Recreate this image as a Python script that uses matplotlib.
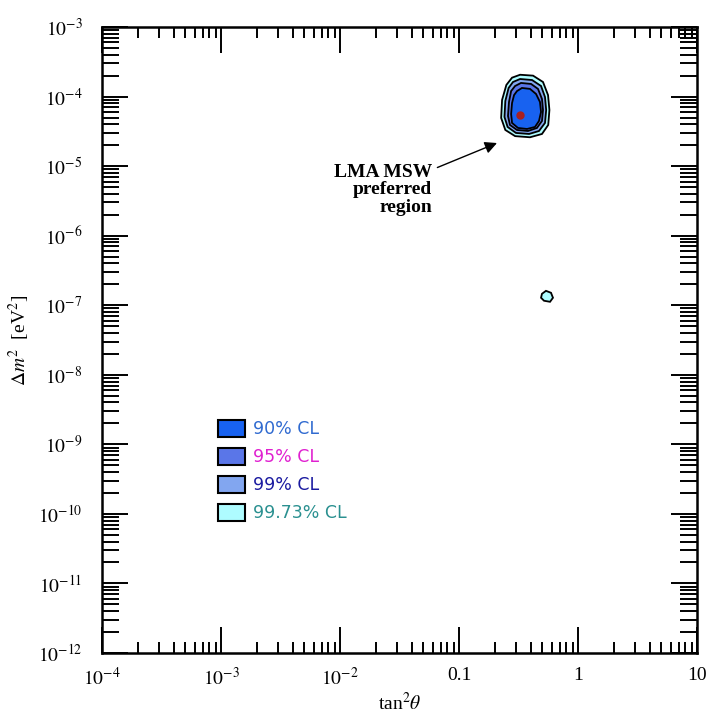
import numpy as np
import matplotlib
matplotlib.use("Agg")
import matplotlib.pyplot as plt
from matplotlib.patches import Rectangle
from matplotlib.ticker import LogLocator, NullFormatter

plt.rcParams['font.family'] = ['Liberation Serif', 'DejaVu Serif']
plt.rcParams['mathtext.fontset'] = 'stix'

# allowed-region contours (tan^2 theta, dm^2 in eV^2)
cl9973_x = [0.326, 0.419, 0.508, 0.560, 0.575, 0.562, 0.498, 0.395, 0.296, 0.245, 0.226, 0.230, 0.250, 0.279]
cl9973_y = [2.06e-4, 2.00e-4, 1.62e-4, 1.05e-4, 6.41e-5, 3.91e-5, 2.90e-5, 2.60e-5, 2.70e-5, 3.31e-5, 4.93e-5, 8.93e-5, 1.47e-4, 1.87e-4]
cl99_x = [0.326, 0.411, 0.489, 0.528, 0.540, 0.528, 0.470, 0.388, 0.301, 0.256, 0.241, 0.245, 0.261, 0.284]
cl99_y = [1.79e-4, 1.73e-4, 1.42e-4, 9.86e-5, 6.41e-5, 4.18e-5, 3.20e-5, 2.90e-5, 3.00e-5, 3.66e-5, 5.09e-5, 8.65e-5, 1.33e-4, 1.62e-4]
cl95_x = [0.332, 0.403, 0.461, 0.498, 0.508, 0.498, 0.452, 0.380, 0.307, 0.268, 0.258, 0.263, 0.274, 0.296]
cl95_y = [1.57e-4, 1.52e-4, 1.29e-4, 9.24e-5, 6.41e-5, 4.46e-5, 3.54e-5, 3.20e-5, 3.31e-5, 3.91e-5, 5.26e-5, 8.36e-5, 1.20e-4, 1.42e-4]
cl90_x = [0.338, 0.395, 0.444, 0.479, 0.489, 0.470, 0.435, 0.373, 0.313, 0.279, 0.274, 0.279, 0.290, 0.307]
cl90_y = [1.33e-4, 1.29e-4, 1.09e-4, 8.36e-5, 6.01e-5, 4.46e-5, 3.66e-5, 3.42e-5, 3.54e-5, 4.18e-5, 5.62e-5, 8.09e-5, 1.05e-4, 1.20e-4]

# small 99.73% island near LOW
island_x = [0.498, 0.538, 0.593, 0.616, 0.582, 0.518, 0.489]
island_y = [1.46e-7, 1.61e-7, 1.51e-7, 1.28e-7, 1.12e-7, 1.16e-7, 1.28e-7]

best_fit = (0.326, 5.4e-5)

cl_labels = ['90% CL', '95% CL', '99% CL', '99.73% CL']
cl_fills = ['#1862f0', '#5a76e8', '#82a6f0', '#aefcff']
cl_textcolors = ['#2f6ad0', '#e020d0', '#1a1aa0', '#2a9090']

x_ticks = [1e-4, 1e-3, 1e-2, 0.1, 1, 10]
x_ticklabels = [r'$10^{-4}$', r'$10^{-3}$', r'$10^{-2}$', '0.1', '1', '10']
y_ticks = [10.0 ** e for e in range(-12, -2)]
y_ticklabels = [r'$10^{%d}$' % e for e in range(-12, -2)]

fig = plt.figure(figsize=(7.1, 7.17), dpi=100)
ax = fig.add_axes([0.1437, 0.0893, 0.838, 0.873])
ax.set_xscale('log')
ax.set_yscale('log')
ax.set_xlim(1e-4, 10)
ax.set_ylim(1e-12, 1e-3)

# contours, outermost first
for xs, ys, c in [(cl9973_x, cl9973_y, cl_fills[3]), (cl99_x, cl99_y, cl_fills[2]),
                  (cl95_x, cl95_y, cl_fills[1]), (cl90_x, cl90_y, cl_fills[0]),
                  (island_x, island_y, cl_fills[3])]:
    ax.fill(xs, ys, facecolor=c, edgecolor='black', linewidth=1.3, zorder=3)
ax.plot(*best_fit, 'o', color='#a82020', markersize=5, zorder=4)

# annotation
ax.annotate('LMA MSW\npreferred\nregion', xy=(0.2086, 2.15e-5), xytext=(0.0593, 4.55e-6),
            ha='right', va='center', multialignment='right', fontsize=14, fontweight='bold',
            linespacing=1.05,
            arrowprops=dict(arrowstyle='-|>', color='black', lw=1.0, mutation_scale=18,
                            shrinkA=2, shrinkB=0))

# legend drawn by hand
for i, (lab, fc, tc) in enumerate(zip(cl_labels, cl_fills, cl_textcolors)):
    yc = 0.358 - i * 0.0447
    ax.add_patch(Rectangle((0.195, yc - 0.0136), 0.0454, 0.0272, transform=ax.transAxes,
                           facecolor=fc, edgecolor='black', linewidth=1.5, zorder=5))
    ax.text(0.254, yc, lab, transform=ax.transAxes, color=tc, fontsize=12.5,
            family=['DejaVu Sans'], va='center', ha='left')

ax.set_xticks(x_ticks)
ax.set_xticklabels(x_ticklabels)
ax.set_yticks(y_ticks)
ax.set_yticklabels(y_ticklabels)
ax.xaxis.set_minor_locator(LogLocator(base=10, subs=np.arange(2, 10), numticks=20))
ax.yaxis.set_minor_locator(LogLocator(base=10, subs=np.arange(2, 10), numticks=30))
ax.xaxis.set_minor_formatter(NullFormatter())
ax.yaxis.set_minor_formatter(NullFormatter())

ax.tick_params(which='both', direction='in', top=True, right=True, width=1.4, labelsize=14)
ax.tick_params(axis='y', which='major', length=19, pad=14)
ax.tick_params(axis='y', which='minor', length=12)
ax.tick_params(axis='x', which='major', length=19, pad=10)
ax.tick_params(axis='x', which='minor', length=8)
for s in ax.spines.values():
    s.set_linewidth(1.8)

ax.set_xlabel(r'tan$^2\theta$', fontsize=14, labelpad=2)
ax.set_ylabel(r'$\Delta m^2$  [eV$^2$]', fontsize=14, labelpad=4)

fig.savefig('out.png', dpi=100)
